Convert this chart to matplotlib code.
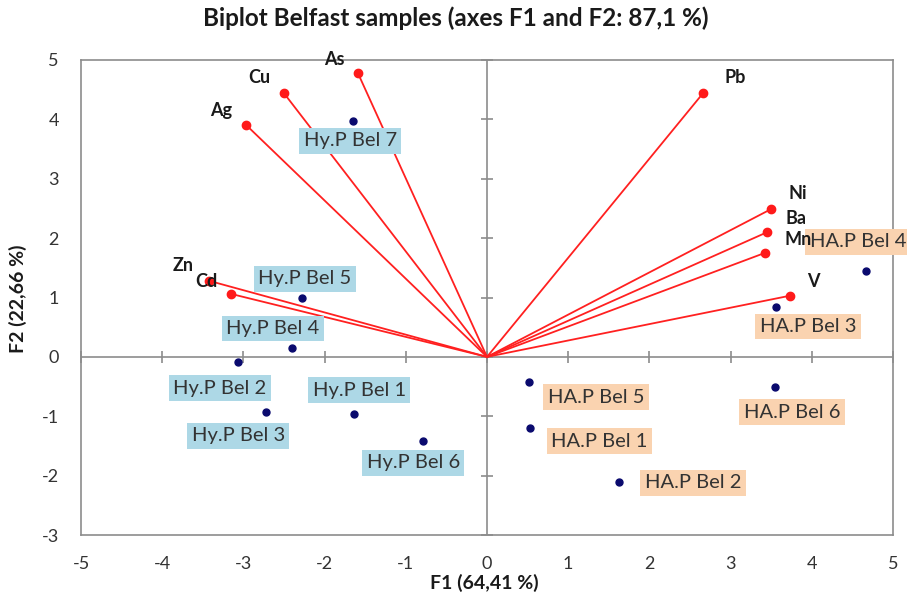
import matplotlib
matplotlib.use("Agg")
import matplotlib.pyplot as plt

plt.rcParams['font.family'] = ['Lato', 'DejaVu Sans']

# variables (loadings scaled onto the F1/F2 plane)
var_names = ["As", "Cu", "Ag", "Pb", "Ni", "Ba", "Mn", "V", "Zn", "Cd"]
var_f1 = [-1.59, -2.50, -2.97, 2.66, 3.50, 3.45, 3.42, 3.73, -3.42, -3.15]
var_f2 = [4.78, 4.44, 3.91, 4.44, 2.49, 2.10, 1.75, 1.03, 1.28, 1.06]
# label offsets in points (dx, dy)
var_off = [(-17, 10), (-18, 11), (-18, 10), (23, 11), (19, 11), (21, 10), (24, 10), (17, 10), (-19, 11), (-18, 9)]

# observations
obs_names = ["Hy.P Bel 1", "Hy.P Bel 2", "Hy.P Bel 3", "Hy.P Bel 4", "Hy.P Bel 5",
             "Hy.P Bel 6", "Hy.P Bel 7",
             "HA.P Bel 1", "HA.P Bel 2", "HA.P Bel 3", "HA.P Bel 4", "HA.P Bel 5", "HA.P Bel 6"]
obs_f1 = [-1.64, -3.07, -2.72, -2.40, -2.28, -0.79, -1.65,
          0.53, 1.63, 3.56, 4.67, 0.52, 3.55]
obs_f2 = [-0.96, -0.08, -0.93, 0.15, 0.99, -1.41, 3.97,
          -1.19, -2.10, 0.84, 1.45, -0.42, -0.51]
obs_off = [(4, 17), (-13, -19), (-20, -17), (-14, 14), (2, 14), (-7, -16), (-2, -14),
           (50, -10), (53, -1), (23, -14), (-6, 21), (48, -11), (12, -18)]

fig = plt.figure(figsize=(9.07, 5.96), dpi=100)
ax = fig.add_axes([81 / 907, 1 - 535 / 596, 812 / 907, 475 / 596])
ax.set_xlim(-5, 5)
ax.set_ylim(-3, 5)

grey = "#8c8c8c"
for s in ax.spines.values():
    s.set_color(grey)
    s.set_linewidth(1.2)

# axes through the origin with crossing ticks
ax.axhline(0, color=grey, lw=1.2, zorder=1)
ax.axvline(0, color=grey, lw=1.2, zorder=1)
xt = list(range(-5, 6))
yt = list(range(-3, 6))
ax.plot(xt, [0] * len(xt), ls="none", marker="|", ms=9, mew=1.2, color=grey, zorder=1, clip_on=False)
ax.plot([0] * len(yt), yt, ls="none", marker="_", ms=9, mew=1.2, color=grey, zorder=1, clip_on=False)

ax.set_xticks(xt)
ax.set_yticks(yt)
ax.tick_params(length=0, labelsize=13, labelcolor="#333333")
ax.tick_params(axis="x", pad=15)
ax.tick_params(axis="y", pad=16)
ax.set_xticklabels([str(v) for v in xt])
ax.set_yticklabels([str(v) for v in yt])

# arrows from origin for each variable
for x, y in zip(var_f1, var_f2):
    ax.plot([0, x], [0, y], color="#ff2020", lw=1.3, zorder=2)
ax.plot(var_f1, var_f2, ls="none", marker="o", ms=6, color="#ff1a1a", zorder=3)

for name, x, y, (dx, dy) in zip(var_names, var_f1, var_f2, var_off):
    ax.annotate(name, (x, y), xytext=(dx, dy), textcoords="offset points",
                ha="center", va="center", fontsize=13, fontweight="bold",
                color="#1a1a1a", zorder=7)

ax.plot(obs_f1, obs_f2, ls="none", marker="o", ms=5, color="#0a0a6e", zorder=4)

for name, x, y, (dx, dy) in zip(obs_names, obs_f1, obs_f2, obs_off):
    fc = "#add8e6" if name.startswith("Hy") else "#fad3b0"
    ax.annotate(name, (x, y), xytext=(dx, dy), textcoords="offset points",
                ha="center", va="center", fontsize=14.5, color="#333333",
                bbox=dict(boxstyle="square,pad=0.22", fc=fc, ec="none"),
                zorder=6, annotation_clip=False)

fig.text(456 / 907, 1 - 18 / 596, "Biplot Belfast samples (axes F1 and F2: 87,1 %)",
         ha="center", va="center", fontsize=17.5, fontweight="bold", color="#1a1a1a")
fig.text(484 / 907, 1 - 583 / 596, "F1 (64,41 %)", ha="center", va="center",
         fontsize=14, fontweight="bold", color="#1a1a1a")
fig.text(18 / 907, 1 - 299 / 596, "F2 (22,66 %)", ha="center", va="center",
         rotation=90, fontsize=14, fontweight="bold", color="#1a1a1a")

fig.savefig("out.png", dpi=100)
